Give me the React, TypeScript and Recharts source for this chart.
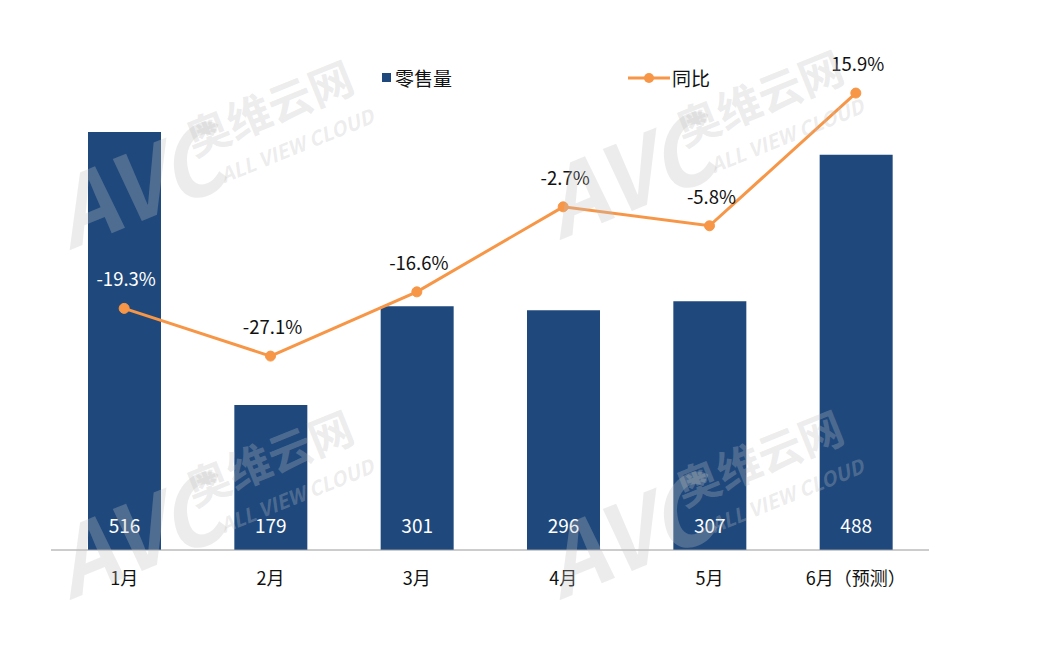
import React from 'react';
import { ComposedChart, Bar, Line, XAxis, YAxis, LabelList, Legend } from 'recharts';

const categories = ['1月', '2月', '3月', '4月', '5月', '6月（预测）'];
const retailVolume = [516, 179, 301, 296, 307, 488];
const yoyPercent = [-19.3, -27.1, -16.6, -2.7, -5.8, 15.9];

const data = categories.map((c, i) => ({ name: c, vol: retailVolume[i], yoy: yoyPercent[i] }));

const BAR = '#1f497d';
const ORANGE = '#f79646';
const FONT = '"Noto Sans CJK SC", "Noto Sans", sans-serif';

const LegendContent = () => (
  <div style={{ position: 'relative', height: 30, width: 1064, fontFamily: FONT, fontSize: 19, color: '#111' }}>
    <div style={{ position: 'absolute', left: 382, top: 2, display: 'flex', alignItems: 'center' }}>
      <span style={{ display: 'inline-block', width: 9, height: 9, background: BAR, marginRight: 4 }} />
      <span>零售量</span>
    </div>
    <div style={{ position: 'absolute', left: 628, top: 2, display: 'flex', alignItems: 'center' }}>
      <svg width={42} height={14}>
        <line x1={0} y1={7} x2={42} y2={7} stroke={ORANGE} strokeWidth={3} />
        <circle cx={21} cy={7} r={5} fill={ORANGE} />
      </svg>
      <span style={{ marginLeft: 2 }}>同比</span>
    </div>
  </div>
);

const lineLabel = (props: any) => {
  const { x, y, value, index } = props;
  return (
    <text x={x + 2} y={y - 22} textAnchor="middle" fontFamily={FONT} fontSize={18.5}
      fill={index === 0 ? '#ffffff' : '#111111'}>
      {`${Number(value).toFixed(1)}%`}
    </text>
  );
};

const barLabel = (props: any) => {
  const { x, y, width, height, value } = props;
  return (
    <text x={x + width / 2} y={y + height - 17} textAnchor="middle" fontFamily={FONT} fontSize={19} fill="#ffffff">
      {value}
    </text>
  );
};

const Watermark = ({ x, y }: { x: number; y: number }) => (
  <g transform={`translate(${x},${y}) rotate(-22)`} fill="#bfbfbf" fillOpacity={0.3} fontFamily={FONT} fontWeight="bold">
    <text x={0} y={0} fontSize={92} fontStyle="italic">AVC</text>
    <text x={150} y={-40} fontSize={44}>奥维云网</text>
    <text x={168} y={-4} fontSize={20} fontStyle="italic">ALL VIEW CLOUD</text>
  </g>
);

export default function App() {
  return (
    <div style={{ position: 'absolute', left: 0, top: 0, width: 1064, height: 656, background: '#fff' }}>
      <ComposedChart width={1064} height={656} data={data}
        margin={{ top: 34, right: 135, bottom: 66, left: 51 }} barCategoryGap="25%">
        <XAxis dataKey="name" axisLine={{ stroke: '#9a9a9a', strokeWidth: 1 }} tickLine={false} tickSize={0}
          tickMargin={22} height={40} interval={0}
          tick={{ fontFamily: FONT, fontSize: 18, fill: '#111' }} />
        <YAxis yAxisId="left" hide domain={[0, 600]} />
        <YAxis yAxisId="right" orientation="right" hide domain={[-58.8, 20.65]} />
        <Legend verticalAlign="top" height={30} content={<LegendContent />} wrapperStyle={{ top: 62, left: 0, width: 1064 }} />
        <Bar yAxisId="left" dataKey="vol" fill={BAR} isAnimationActive={false} barSize={73}>
          <LabelList dataKey="vol" content={barLabel} />
        </Bar>
        <Line yAxisId="right" dataKey="yoy" stroke={ORANGE} strokeWidth={3}
          dot={{ r: 5, fill: ORANGE, stroke: ORANGE, strokeWidth: 1 }} isAnimationActive={false}>
          <LabelList dataKey="yoy" content={lineLabel} />
        </Line>
      </ComposedChart>
      <svg width={1064} height={656} style={{ position: 'absolute', left: 0, top: 0, pointerEvents: 'none' }}>
        <Watermark x={70} y={250} />
        <Watermark x={560} y={240} />
        <Watermark x={70} y={600} />
        <Watermark x={560} y={600} />
      </svg>
    </div>
  );
}
